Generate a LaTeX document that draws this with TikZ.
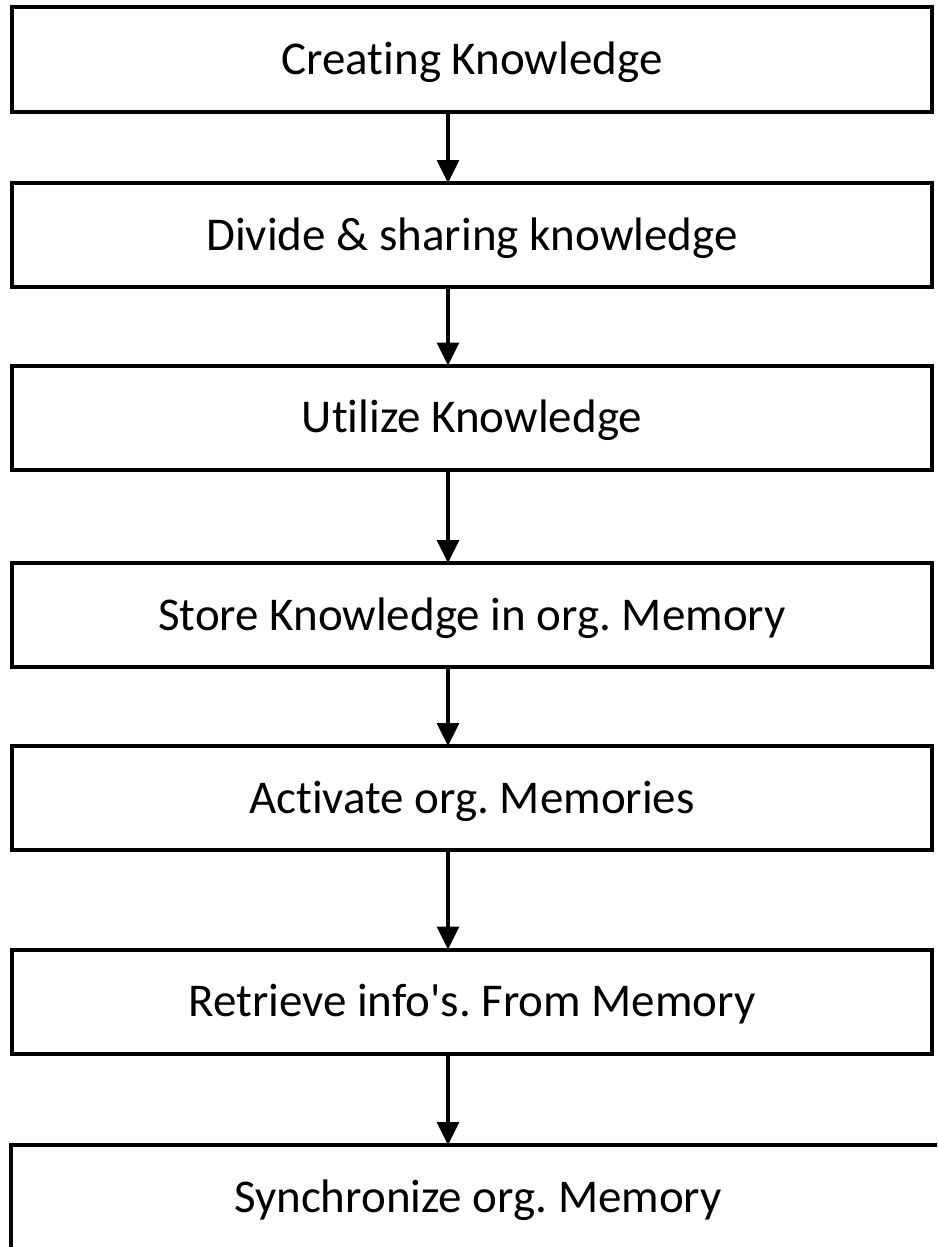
\documentclass[tikz,border=0pt]{standalone}
\usepackage{fontspec}
\setmainfont{Carlito}[Ligatures=NoCommon]
\usetikzlibrary{arrows.meta}
\frenchspacing
\begin{document}
\begin{tikzpicture}[x=1pt,y=-1pt,
  stagebox/.style={draw=black, line width=4pt, fill=white, minimum width=920pt,
    minimum height=104pt, inner sep=0pt, outer sep=0pt,
    text height=30pt, text depth=0pt,
    font=\fontsize{47}{56}\selectfont},
  flowarrow/.style={line width=3.2pt, -{Triangle[width=22pt,length=23pt]}}]
  \useasboundingbox (0,0) rectangle (937,1247);
  \clip (0,0) rectangle (937,1247);
  \coordinate (ax) at (448,0);
  \node[stagebox] (b1) at (472,59.5)   {Creating Knowledge};
  \node[stagebox] (b2) at (472,235)    {Divide \& sharing knowledge};
  \node[stagebox] (b3) at (472,417.5)  {Utilize Knowledge};
  \node[stagebox] (b4) at (472,615)    {Store Knowledge in org. Memory};
  \node[stagebox] (b5) at (472,798)    {Activate org. Memories};
  \node[stagebox] (b6) at (472,1001.5) {Retrieve info\textquotesingle s. From Memory};
  \node[stagebox, minimum width=934pt] (b7) at (478,1197) {Synchronize org. Memory};
  \draw[flowarrow] (b1.south -| ax) -- (b2.north -| ax);
  \draw[flowarrow] (b2.south -| ax) -- (b3.north -| ax);
  \draw[flowarrow] (b3.south -| ax) -- (b4.north -| ax);
  \draw[flowarrow] (b4.south -| ax) -- (b5.north -| ax);
  \draw[flowarrow] (b5.south -| ax) -- (b6.north -| ax);
  \draw[flowarrow] (b6.south -| ax) -- (b7.north -| ax);
\end{tikzpicture}
\end{document}
